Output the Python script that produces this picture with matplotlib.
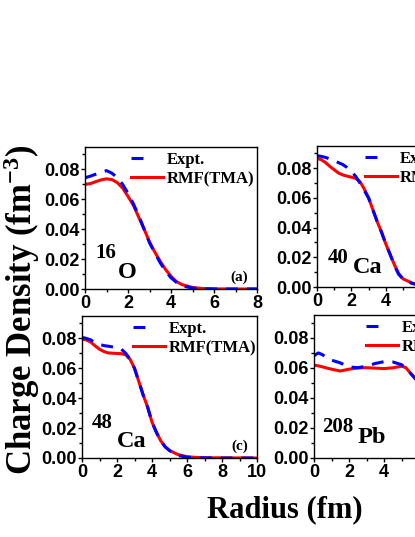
import numpy as np
import matplotlib
matplotlib.use("Agg")
import matplotlib.pyplot as plt
from matplotlib.ticker import MultipleLocator
from matplotlib.lines import Line2D

plt.rcParams["font.family"] = "Liberation Serif"
plt.rcParams["font.weight"] = "bold"
plt.rcParams["mathtext.fontset"] = "custom"
plt.rcParams["mathtext.default"] = "regular"

# ---- data (radius in fm, density in fm^-3) ----
r_o16 = [0, 0.25, 0.5, 0.75, 1.0, 1.25, 1.5, 1.75, 2.0, 2.25, 2.5, 2.75, 3.0,
         3.25, 3.5, 3.75, 4.0, 4.25, 4.5, 5.0, 5.5, 6.0, 7.0, 8.0]
exp_o16 = [0.0744, 0.0755, 0.0768, 0.0780, 0.0792, 0.0775, 0.0745, 0.0700, 0.0640,
           0.0570, 0.0490, 0.0400, 0.0310, 0.0240, 0.0175, 0.0120, 0.0075, 0.0045,
           0.0022, 0.0006, 0.0002, 0.0, 0.0, 0.0]
rmf_o16 = [0.0700, 0.0705, 0.0718, 0.0730, 0.0737, 0.0732, 0.0712, 0.0675, 0.0620,
           0.0560, 0.0480, 0.0400, 0.0315, 0.0246, 0.0185, 0.0130, 0.0085, 0.0050,
           0.0030, 0.0010, 0.0003, 0.0001, 0.0, 0.0]

r_ca40 = [0, 0.25, 0.5, 0.75, 1.0, 1.25, 1.5, 1.75, 2.0, 2.25, 2.5, 2.75, 3.0,
          3.25, 3.5, 3.75, 4.0, 4.25, 4.5, 4.75, 5.0, 5.5, 6.0, 6.5, 7.0, 8.0, 10.0]
exp_ca40 = [0.0885, 0.0880, 0.0873, 0.0862, 0.0850, 0.0838, 0.0825, 0.0805, 0.0780,
            0.0745, 0.0700, 0.0650, 0.0600, 0.0520, 0.0440, 0.0370, 0.0290, 0.0220,
            0.0145, 0.0085, 0.0055, 0.0025, 0.0010, 0.0004, 0.0001, 0.0, 0.0]
rmf_ca40 = [0.0866, 0.0858, 0.0838, 0.0812, 0.0790, 0.0768, 0.0755, 0.0747, 0.0740,
            0.0732, 0.0710, 0.0660, 0.0600, 0.0520, 0.0440, 0.0370, 0.0290, 0.0220,
            0.0150, 0.0090, 0.0055, 0.0028, 0.0012, 0.0005, 0.0002, 0.0, 0.0]

r_ca48 = [0, 0.25, 0.5, 0.75, 1.0, 1.25, 1.5, 2.0, 2.25, 2.5, 2.75, 3.0, 3.25,
          3.5, 3.75, 4.0, 4.25, 4.5, 4.75, 5.0, 5.5, 6.0, 6.5, 7.0, 8.0, 10.0]
exp_ca48 = [0.0807, 0.0800, 0.0790, 0.0772, 0.0760, 0.0752, 0.0748, 0.0738, 0.0728,
            0.0700, 0.0660, 0.0600, 0.0510, 0.0420, 0.0340, 0.0240, 0.0172, 0.0115,
            0.0075, 0.0050, 0.0017, 0.0005, 0.0002, 0.0001, 0.0, 0.0]
rmf_ca48 = [0.0795, 0.0790, 0.0775, 0.0750, 0.0728, 0.0712, 0.0703, 0.0699, 0.0698,
            0.0690, 0.0660, 0.0600, 0.0510, 0.0420, 0.0340, 0.0240, 0.0172, 0.0115,
            0.0075, 0.0050, 0.0022, 0.0009, 0.0004, 0.0002, 0.0001, 0.0]

r_pb208 = [0, 0.25, 0.5, 0.75, 1.0, 1.5, 2.0, 2.5, 3.0, 3.5, 4.0, 4.5, 5.0, 5.25,
           5.5, 6.0, 6.5, 7.0, 7.5, 8.0, 8.5, 9.0, 10.0]
exp_pb208 = [0.0680, 0.0698, 0.0685, 0.0665, 0.0650, 0.0632, 0.0605, 0.0600, 0.0610,
             0.0628, 0.0640, 0.0638, 0.0620, 0.0594, 0.0565, 0.0500, 0.0390, 0.0250,
             0.0130, 0.0060, 0.0025, 0.0010, 0.0002]
rmf_pb208 = [0.0617, 0.0612, 0.0605, 0.0597, 0.0590, 0.0578, 0.0590, 0.0598, 0.0600,
             0.0597, 0.0594, 0.0599, 0.0610, 0.0600, 0.0565, 0.0500, 0.0390, 0.0250,
             0.0130, 0.0060, 0.0025, 0.0010, 0.0002]

mass_numbers = ["16", "40", "48", "208"]
elements = ["O", "Ca", "Ca", "Pb"]
panel_tags = ["(a)", "(b)", "(c)", "(d)"]
x_max = [8, 10, 10, 10]

panels = [(r_o16, exp_o16, rmf_o16), (r_ca40, exp_ca40, rmf_ca40),
          (r_ca48, exp_ca48, rmf_ca48), (r_pb208, exp_pb208, rmf_pb208)]

W, H = 415, 537
fig = plt.figure(figsize=(W / 100, H / 100), dpi=100)

# axes boxes in pixels: left, top, width, height (right column runs off the page)
boxes = [(85, 147, 172, 142), (317, 146, 172, 141),
         (82, 316, 175, 142), (314, 315, 175, 143)]
# text anchors in axes fraction: legend x, mass x/y, element x/y
leg_x = [0.25, 0.26, 0.274, 0.28]
mass_xy = [(0.058, 0.22), (0.064, 0.17), (0.057, 0.21), (0.047, 0.18)]
elem_xy = [(0.19, 0.077), (0.21, 0.099), (0.20, 0.077), (0.25, 0.105)]

tick_font = {"family": "Liberation Sans", "weight": "bold", "size": 13}
lw = 2.2

for i, (rr, ee, mm) in enumerate(panels):
    l, t, w, h = boxes[i]
    ax = fig.add_axes([l / W, 1 - (t + h) / H, w / W, h / H])
    ax.plot(rr, mm, color="red", lw=lw, solid_capstyle="butt")
    ax.plot(rr, ee, color="blue", lw=lw, ls=(0, (3.9, 2.9)))
    ax.set_xlim(0, x_max[i])
    ax.set_ylim(0, 0.095)
    ax.xaxis.set_major_locator(MultipleLocator(2))
    ax.xaxis.set_minor_locator(MultipleLocator(1))
    ax.yaxis.set_major_locator(MultipleLocator(0.02))
    ax.yaxis.set_minor_locator(MultipleLocator(0.01))
    ax.tick_params(which="major", direction="out", length=3, width=1, pad=1)
    ax.tick_params(which="minor", direction="out", length=2, width=1)
    ax.set_yticklabels([f"{v:.2f}" for v in ax.get_yticks()])
    for lab in ax.get_xticklabels() + ax.get_yticklabels():
        lab.set_fontproperties(tick_font)
    for sp in ax.spines.values():
        sp.set_linewidth(1.0)

    handles = [Line2D([], [], color="blue", lw=lw, ls=(0, (3.9, 12))),
               Line2D([], [], color="red", lw=lw)]
    ax.legend(handles, ["Expt.", "RMF(TMA)"], loc="upper left",
              bbox_to_anchor=(leg_x[i], 0.99), frameon=False, fontsize=12,
              handlelength=1.9, handletextpad=0.2, labelspacing=0.2,
              borderpad=0.2, borderaxespad=0)

    ax.text(*mass_xy[i], mass_numbers[i], transform=ax.transAxes,
            fontsize=15, fontweight="bold", va="baseline", ha="left")
    ax.text(*elem_xy[i], elements[i], transform=ax.transAxes,
            fontsize=17.5, fontweight="bold", va="baseline", ha="left")
    ax.text(0.95, 0.06, panel_tags[i], transform=ax.transAxes,
            fontsize=11, fontweight="bold", va="baseline", ha="right")

fig.text(22 / W, 1 - 310 / H, "Charge Density (fm$^{-3}$)", rotation=90,
         fontsize=25, fontweight="bold", ha="center", va="center")
fig.text(285 / W, 1 - 510 / H, "Radius (fm)", fontsize=22,
         fontweight="bold", ha="center", va="center")

fig.savefig("out.png", dpi=100)
